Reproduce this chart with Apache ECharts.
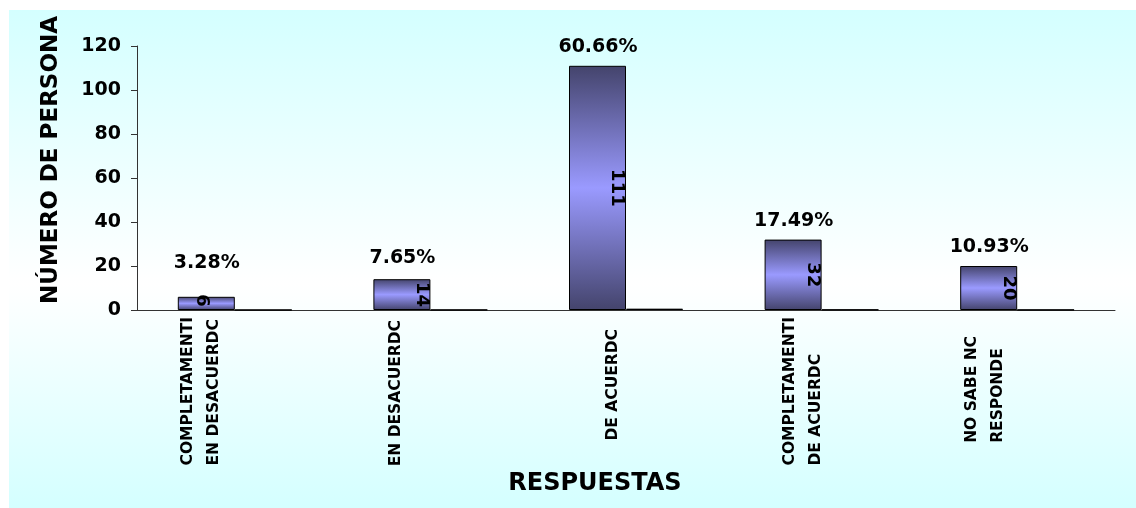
<!DOCTYPE html>
<html lang="es">
<head>
<meta charset="utf-8" />
<title>Respuestas</title>
<script src="https://cdn.jsdelivr.net/npm/echarts@6/dist/echarts.min.js"></script>
</head>
<body style="margin:0;background:#fff">
<div id="chart" style="width:1136px;height:508px"></div>
<script>
// categorias tal como aparecen (texto recortado en el original)
let categorias = [
    'COMPLETAMENTI\nEN DESACUERDC',
    'EN DESACUERDC',
    'DE ACUERDC',
    'COMPLETAMENTI\nDE ACUERDC',
    'NO SABE NC\nRESPONDE'
]
let personas = [6, 14, 111, 32, 20]
let porcentajes = [3.28, 7.65, 60.66, 17.49, 10.93]
let yMin = 0
let yMax = 120
let yPaso = 20

// estilos: desplazamientos de etiquetas (px)
let corrIzq = [34, 34, 13, 19, 32]   // etiqueta del eje x hacia la izquierda
let corrAbajo = [0, 3, 12, 0, 19]    // etiqueta del eje x hacia abajo
let corrPct = [15, 2, 0, 0, 0]       // etiqueta de % hacia arriba

let fuente = 'DejaVu Sans'
let chart = echarts.init(document.getElementById('chart'))

let relleno = new echarts.graphic.LinearGradient(0, 0, 0, 1, [
    { offset: 0, color: '#44446C' },
    { offset: 0.5, color: '#9A9AFF' },
    { offset: 1, color: '#44446C' }
])
let fondo = new echarts.graphic.LinearGradient(0, 0, 0, 1, [
    { offset: 0, color: '#D4FFFF' },
    { offset: 0.55, color: '#FFFFFF' },
    { offset: 1, color: '#D4FFFF' }
])

let etiquetaValor = {
    show: true, position: 'insideRight', rotate: -90,
    align: 'center', verticalAlign: 'top', distance: 0,
    fontSize: 18, fontWeight: 'bold', fontFamily: fuente, color: '#000'
}

chart.setOption({
    animation: false,
    textStyle: { fontFamily: fuente, fontWeight: 'bold', color: '#000' },
    graphic: [{
        type: 'rect', z: -100, silent: true,
        shape: { x: 9, y: 10, width: 1127, height: 498 },
        style: { fill: fondo }
    }],
    grid: { left: 137, right: 21, top: 46, bottom: 198, outerBoundsMode: 'none' },
    xAxis: {
        type: 'category',
        data: categorias.map((c, i) => ({
            value: c,
            textStyle: { padding: [0, corrAbajo[i], corrIzq[i] * 2, 0] }
        })),
        axisLine: { lineStyle: { color: '#333', width: 1 } },
        axisTick: { length: 6, lineStyle: { color: '#333' } },
        axisLabel: {
            interval: 0, rotate: 90, margin: 7,
            fontSize: 15.5, fontWeight: 'bold', fontFamily: fuente, color: '#000',
            formatter: v => v.split('\n').map(s => '{a|' + s + '}').join('\n'),
            rich: { a: { align: 'left', lineHeight: 26, fontSize: 15.5, fontWeight: 'bold', fontFamily: fuente, color: '#000' } }
        },
        name: 'RESPUESTAS', nameLocation: 'middle', nameGap: 162, nameMoveOverlap: false,
        nameTextStyle: { fontSize: 24, fontWeight: 'bold', fontFamily: fuente, color: '#000', padding: [0, 62, 0, 0] }
    },
    yAxis: {
        type: 'value', min: yMin, max: yMax, interval: yPaso,
        splitLine: { show: false },
        axisLine: { show: true, lineStyle: { color: '#333' } },
        axisTick: { show: true, length: 6, lineStyle: { color: '#333' } },
        axisLabel: { margin: 16, fontSize: 19, fontWeight: 'bold', fontFamily: fuente, color: '#000' },
        name: 'NÚMERO DE PERSONA', nameLocation: 'middle', nameGap: 74, nameMoveOverlap: false,
        nameTextStyle: { fontSize: 23, fontWeight: 'bold', fontFamily: fuente, color: '#000', padding: [0, 0, 0, 36] }
    },
    series: [{
        type: 'bar',
        // la barra baja (6) lleva su etiqueta centrada, como en el original
        data: personas.map((v, i) => i === 0
            ? { value: v, label: { position: 'inside', align: 'center', verticalAlign: 'middle', offset: [-3, 5] } }
            : v),
        barWidth: 57,
        barGap: '0%',
        itemStyle: { color: relleno, borderColor: '#000', borderWidth: 1 },
        label: etiquetaValor
    }, {
        type: 'bar',
        data: porcentajes.map(p => p / 100),
        barWidth: 57,
        itemStyle: { color: relleno, borderColor: '#000', borderWidth: 1 }
    }, {
        type: 'scatter',
        silent: true,
        symbolSize: 1,
        itemStyle: { color: 'rgba(255,255,255,0)' },
        data: personas.map((v, i) => ({ value: v, label: { distance: 9 + corrPct[i] } })),
        label: {
            show: true, position: 'top', offset: [-28, 0], opacity: 1,
            formatter: p => porcentajes[p.dataIndex].toFixed(2) + '%',
            fontSize: 19, fontWeight: 'bold', fontFamily: fuente, color: '#000',
            textBorderWidth: 0
        }
    }]
})
</script>
</body>
</html>
